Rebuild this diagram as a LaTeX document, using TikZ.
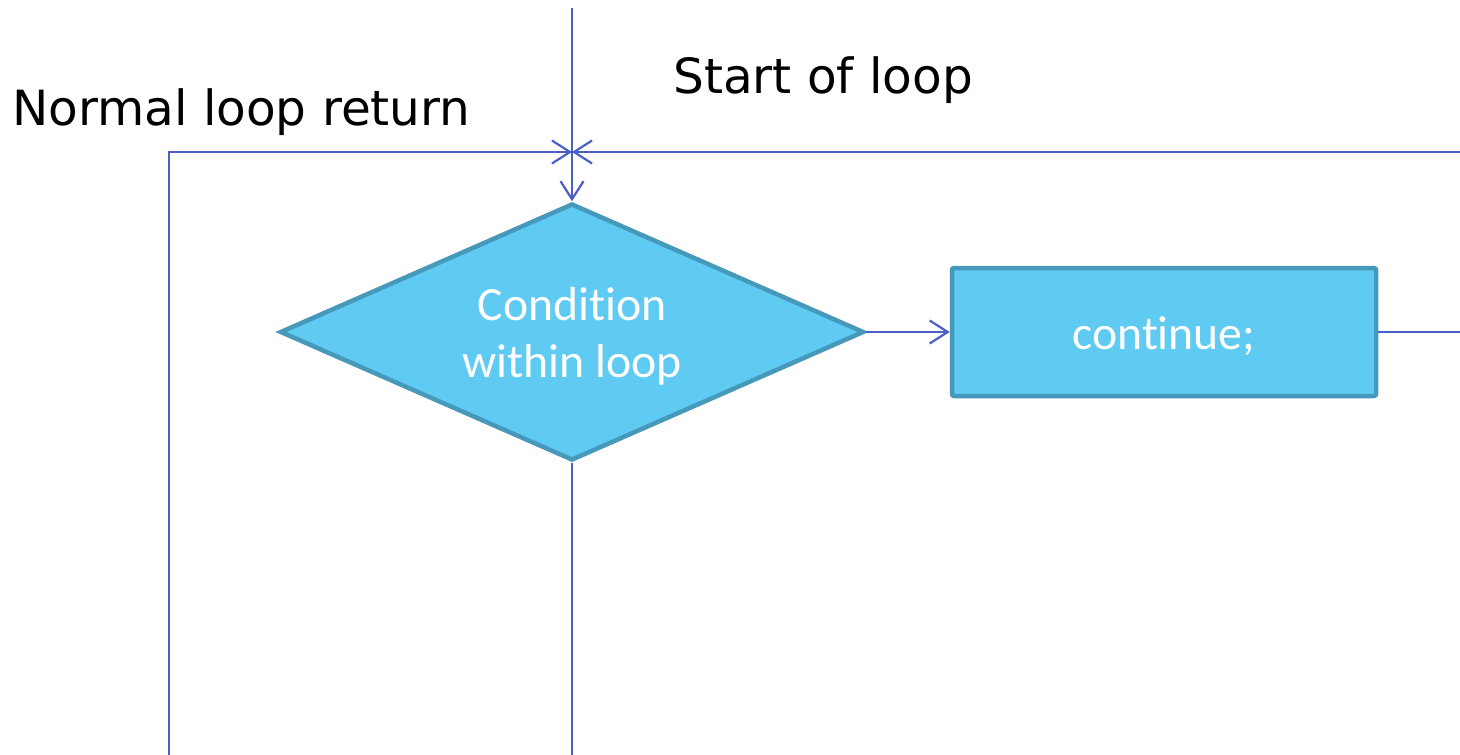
\documentclass[tikz,border=0pt]{standalone}
\usepackage{fontspec}
\setmainfont{DejaVu Sans}
\newfontfamily\calib[Ligatures={NoCommon,NoRequired,NoContextual}]{Carlito}
\usetikzlibrary{shapes.geometric,arrows.meta}
\definecolor{flowline}{HTML}{4A5FC8}
\definecolor{boxfill}{HTML}{5FCBF3}
\definecolor{boxedge}{HTML}{4699BA}
\tikzset{
  flow/.style={draw=flowline, line width=2pt},
  flowarrow/.style={flow, -{Straight Barb[length=18pt,width=23pt,line width=2.2pt]}},
  shapetext/.style={text=white, font=\calib\fontsize{47.7}{57}\selectfont},
  decision/.style={diamond, aspect=2.27, fill=boxfill, draw=boxedge, line width=4.5pt,
    minimum width=584pt, minimum height=257pt, inner sep=0pt, shapetext},
  action/.style={rectangle, rounded corners=2pt, fill=boxfill, draw=boxedge, line width=4.5pt,
    minimum width=424pt, minimum height=128pt, inner sep=0pt, shapetext},
  label/.style={font=\fontsize{48.5}{58}\selectfont, text=black, inner sep=0pt}
}
% lower a box's contents without changing its size
\newcommand{\droptext}[2]{\raisebox{-#1}[\height][\depth]{#2}}
\begin{document}
\begin{tikzpicture}[x=1pt,y=-1pt]
  \useasboundingbox (0,0) rectangle (1460,755);
  % flowchart shapes
  \node[decision] (cond) at (572,332)
    {\droptext{5.5pt}{\begin{tabular}{@{}c@{}}Condition\\within loop\end{tabular}}};
  \node[action] (cont) at (1164,332) {\droptext{4pt}{continue;}};
  % free ends of the connectors
  \coordinate (entry) at (572,8);
  \coordinate (join) at (572,152);
  \coordinate (retcorner) at (169,152);
  \coordinate (retbottom) at (169,755);
  \coordinate (condbottom) at (572,755);
  \coordinate (contright) at (1460,332);
  \coordinate (backright) at (1460,152);
  % labels
  \node[label, anchor=base west] (normal) at (12,125) {Normal loop return};
  \node[label, anchor=base west] (start) at (673,93) {Start of loop};
  % connectors
  \draw[flowarrow] (entry) -- (cond.north);
  \draw[flowarrow] (retbottom) -- (retcorner) -- (join);
  \draw[flowarrow] (backright) -- (join);
  \draw[flowarrow] (cond.east) -- (cont.west);
  \draw[flow] (cond.south) -- (condbottom);
  \draw[flow] (cont.east) -- (contright);
\end{tikzpicture}
\end{document}
